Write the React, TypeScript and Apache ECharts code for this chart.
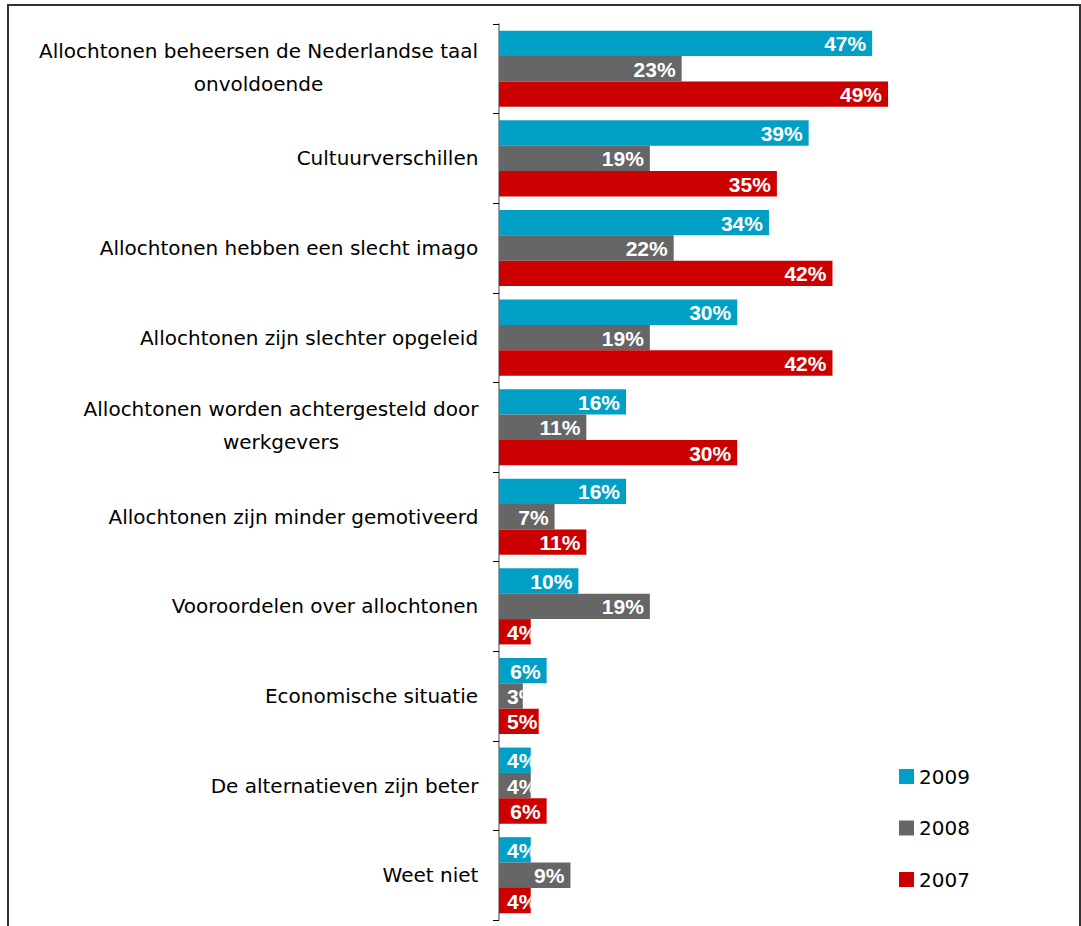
import React, { useEffect, useRef } from "react";
import * as echarts from "echarts";

const categories = [
  "Allochtonen beheersen de Nederlandse taal\nonvoldoende",
  "Cultuurverschillen",
  "Allochtonen hebben een slecht imago",
  "Allochtonen zijn slechter opgeleid",
  "Allochtonen worden achtergesteld door\nwerkgevers",
  "Allochtonen zijn minder gemotiveerd",
  "Vooroordelen over allochtonen",
  "Economische situatie",
  "De alternatieven zijn beter",
  "Weet niet",
];

const years = ["2009", "2008", "2007"];
const values2009 = [47, 39, 34, 30, 16, 16, 10, 6, 4, 4];
const values2008 = [23, 19, 22, 19, 11, 7, 19, 3, 4, 9];
const values2007 = [49, 35, 42, 42, 30, 11, 4, 5, 6, 4];
const colors = ["#00A0C6", "#666666", "#CC0000"];

const LABEL_FONT = "20px 'DejaVu Sans'";
const BAR_FONT = "bold 21px 'Liberation Sans', Arial, sans-serif";

let measureCtx: CanvasRenderingContext2D | null = null;
function textWidth(t: string, font: string): number {
  if (!measureCtx) measureCtx = document.createElement("canvas").getContext("2d");
  if (!measureCtx) return t.length * 10;
  measureCtx.font = font;
  return measureCtx.measureText(t).width;
}

function makeRender(sIdx: number, color: string) {
  return (params: any, api: any) => {
    const v = api.value(0);
    const ci = api.value(1);
    const p0 = api.coord([0, ci]);
    const p1 = api.coord([v, ci]);
    const band = api.size([0, 1])[1];
    const h = band * 0.283;
    const y = p0[1] + (sIdx - 1) * h - h / 2;
    const w = p1[0] - p0[0];
    const text = v + "%";
    const tw = textWidth(text, BAR_FONT);
    const tx = Math.max(p1[0] - 6 - tw, p0[0] + 8);
    return {
      type: "group",
      children: [
        {
          type: "rect",
          shape: { x: p0[0], y, width: w, height: h },
          style: { fill: color },
        },
        {
          type: "text",
          clipPath: { type: "rect", shape: { x: p0[0], y, width: w, height: h } },
          style: {
            x: tx,
            y: y + h / 2 + 0.5,
            text,
            fill: "#ffffff",
            font: BAR_FONT,
            align: "left",
            verticalAlign: "middle",
          },
        },
      ],
    };
  };
}

export default function App() {
  const ref = useRef<HTMLDivElement>(null);
  useEffect(() => {
    document.body.style.margin = "0";
    if (!ref.current) return;
    const chart = echarts.init(ref.current, null, { renderer: "svg" });

    const rich: any = {};
    categories.forEach((c, i) => {
      const lines = c.split("\n");
      const maxW = Math.max(...lines.map((l) => textWidth(l, LABEL_FONT)));
      rich["c" + i] = {
        width: Math.ceil(maxW) + 1,
        align: "center",
        fontSize: 20,
        fontFamily: "DejaVu Sans",
        color: "#000000",
        lineHeight: 33,
        padding: lines.length > 1 ? [0, 0, 3, 0] : 0,
      };
    });

    const seriesValues = [values2009, values2008, values2007];

    chart.setOption({
      animation: false,
      backgroundColor: "#ffffff",
      grid: { left: 499, right: 26.2, top: 24, bottom: 6, containLabel: false },
      xAxis: { type: "value", min: 0, max: 70, show: false },
      yAxis: {
        type: "category",
        data: categories,
        inverse: true,
        axisLine: { show: true, lineStyle: { color: "#808080", width: 1.5 } },
        axisTick: { show: true, length: 6, lineStyle: { color: "#000000", width: 1 } },
        axisLabel: {
          interval: 0,
          margin: 20,
          formatter: (value: string, index: number) =>
            value
              .split("\n")
              .map((l) => "{c" + index + "|" + l + "}")
              .join("\n"),
          rich,
        },
        splitLine: { show: false },
      },
      legend: {
        orient: "vertical",
        left: 899,
        top: 766.5,
        padding: 0,
        itemWidth: 15,
        itemHeight: 15,
        itemGap: 31.5,
        icon: "rect",
        data: years,
        textStyle: {
          fontSize: 20,
          fontFamily: "DejaVu Sans",
          color: "#000000",
          lineHeight: 20,
        },
      },
      graphic: [
        {
          type: "rect",
          silent: true,
          z: -10,
          shape: { x: 8, y: 5, width: 1072, height: 1000 },
          style: { fill: "none", stroke: "#333333", lineWidth: 2 },
        },
      ],
      series: years.map((yr, s) => ({
        name: yr,
        type: "custom",
        itemStyle: { color: colors[s] },
        encode: { x: 0, y: 1 },
        renderItem: makeRender(s, colors[s]),
        data: seriesValues[s].map((v, i) => [v, i]),
      })),
    });
    return () => chart.dispose();
  }, []);
  return <div ref={ref} style={{ width: 1081, height: 926 }} />;
}
